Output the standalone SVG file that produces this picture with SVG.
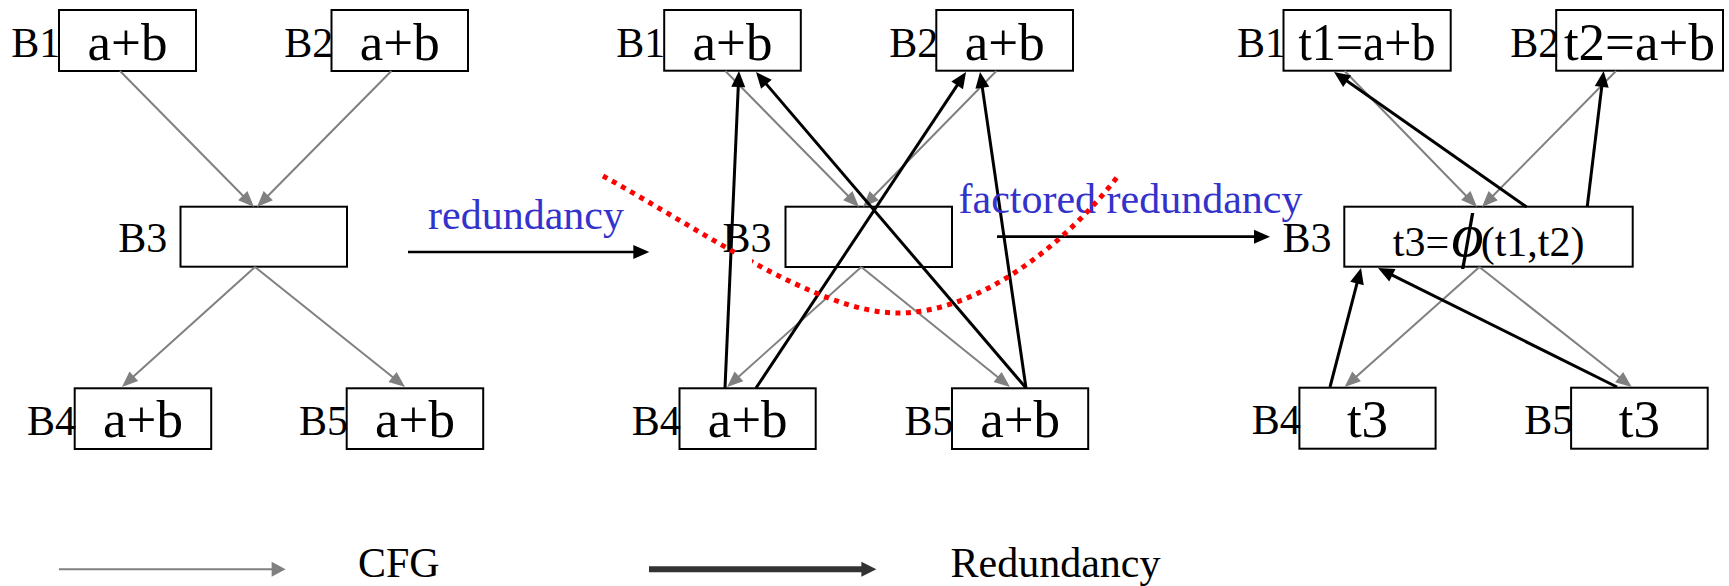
<svg xmlns="http://www.w3.org/2000/svg" width="1729" height="586" viewBox="0 0 1729 586">
<style>
text{font-family:"Liberation Serif","Times New Roman",serif;fill:#000}
.box{fill:#fff;stroke:#000;stroke-width:2}
.lbl{font-family:"Liberation Serif","Times New Roman",serif;font-size:42px}
.val{font-family:"Liberation Serif","Times New Roman",serif;font-size:53px;text-anchor:middle}
.txt{font-family:"Liberation Serif","Times New Roman",serif;font-size:42px}
.note{font-family:"Liberation Serif","Times New Roman",serif;font-size:42px;fill:#3333cc}
.cfg{fill:none;stroke:#808080;stroke-width:2;marker-end:url(#ag)}
.rdn{fill:none;stroke:#000;stroke-width:3;marker-end:url(#ab)}
.step{fill:none;stroke:#000;stroke-width:2.7;marker-end:url(#ab)}
</style>
<defs>
<marker id="ag" markerUnits="userSpaceOnUse" markerWidth="16" markerHeight="13" refX="8" refY="6.5" orient="auto" overflow="visible"><path d="M0,0 L16,6.5 L0,13 z" fill="#808080"/></marker>
<marker id="ab" markerUnits="userSpaceOnUse" markerWidth="16" markerHeight="14" refX="8" refY="7" orient="auto" overflow="visible"><path d="M0,0 L16,7 L0,14 z" fill="#000"/></marker>
<marker id="lg" markerUnits="userSpaceOnUse" markerWidth="14" markerHeight="15" refX="7" refY="7.5" orient="auto" overflow="visible"><path d="M0,0 L14,7.5 L0,15 z" fill="#808080"/></marker>
<marker id="ld" markerUnits="userSpaceOnUse" markerWidth="15" markerHeight="15" refX="7" refY="7.5" orient="auto" overflow="visible"><path d="M0,0 L15,7.5 L0,15 z" fill="#333"/></marker>
<mask id="gap" maskUnits="userSpaceOnUse" x="0" y="0" width="1729" height="586"><rect width="1729" height="586" fill="#fff"/><rect x="737" y="248" width="15" height="22" fill="#000"/></mask>
</defs>

<!-- left panel -->
<g id="L-B1"><rect class="box" x="59" y="10" width="137" height="61"/><text class="lbl" x="11.3" y="57">B1</text><text class="val" x="127.5" y="60">a+b</text></g>
<g id="L-B2"><rect class="box" x="331.5" y="10" width="136.5" height="61"/><text class="lbl" x="284.3" y="57">B2</text><text class="val" x="399.75" y="60">a+b</text></g>
<g id="L-B3"><rect class="box" x="180.5" y="206.7" width="166.5" height="60"/><text class="lbl" x="118.3" y="251.7">B3</text></g>
<g id="L-B4"><rect class="box" x="74.7" y="388.3" width="136.5" height="60.7"/><text class="lbl" x="27" y="435">B4</text><text class="val" x="143" y="437">a+b</text></g>
<g id="L-B5"><rect class="box" x="346.7" y="388.3" width="136.5" height="60.7"/><text class="lbl" x="299" y="435">B5</text><text class="val" x="415" y="437">a+b</text></g>

<!-- middle panel -->
<g id="M-B1"><rect class="box" x="664.2" y="10" width="136.6" height="60.7"/><text class="lbl" x="616.3" y="57">B1</text><text class="val" x="732.5" y="60">a+b</text></g>
<g id="M-B2"><rect class="box" x="936.3" y="10" width="136.7" height="60.7"/><text class="lbl" x="889.3" y="57">B2</text><text class="val" x="1004.7" y="60">a+b</text></g>
<g id="M-B3"><rect class="box" x="785.5" y="206.7" width="166.5" height="60.3"/><text class="lbl" x="722.6" y="251.7">B3</text></g>
<g id="M-B4"><rect class="box" x="679.5" y="388.3" width="136.2" height="60.7"/><text class="lbl" x="631.7" y="435">B4</text><text class="val" x="747.6" y="437">a+b</text></g>
<g id="M-B5"><rect class="box" x="952" y="388.3" width="136.2" height="60.7"/><text class="lbl" x="904.6" y="435">B5</text><text class="val" x="1020.1" y="437">a+b</text></g>

<!-- right panel -->
<g id="R-B1"><rect class="box" x="1283.5" y="10" width="167.2" height="60.7"/><text class="lbl" x="1237" y="57">B1</text><text class="val" x="1367" y="60" textLength="137" lengthAdjust="spacingAndGlyphs">t1=a+b</text></g>
<g id="R-B2"><rect class="box" x="1556.2" y="10" width="166.8" height="60.7"/><text class="lbl" x="1510.2" y="57">B2</text><text class="val" x="1639.4" y="60">t2=a+b</text></g>
<g id="R-B3"><rect class="box" x="1344.3" y="206.7" width="288.4" height="60"/><text class="lbl" x="1282.6" y="251.7">B3</text><text class="txt" x="1392.8" y="256">t3=</text><text style="font-size:62px;font-style:italic;text-anchor:middle;font-family:'Liberation Serif','DejaVu Serif',serif" x="1467.5" y="256">ϕ</text><text class="txt" x="1480.7" y="256">(t1,t2)</text></g>
<g id="R-B4"><rect class="box" x="1299.4" y="387.7" width="136.2" height="61"/><text class="lbl" x="1251.8" y="434">B4</text><text class="val" x="1367.5" y="436.7">t3</text></g>
<g id="R-B5"><rect class="box" x="1571.1" y="387.7" width="136.6" height="61"/><text class="lbl" x="1524.2" y="434">B5</text><text class="val" x="1639.4" y="436.7">t3</text></g>

<g id="connectors">
<path class="cfg" d="M120,71 L248.4,201.3"/>
<path class="cfg" d="M391.4,71 L262.6,201.3"/>
<path class="cfg" d="M255,267 L127.9,381.6"/>
<path class="cfg" d="M255,267 L398.8,382"/>

<path class="cfg" d="M725.4,71 L853.4,201.3"/>
<path class="cfg" d="M996.4,71 L868.6,201.3"/>
<path class="cfg" d="M861.3,267 L733,381.7"/>
<path class="cfg" d="M861.3,267 L1003.8,382"/>

<path class="rdn" d="M725,388 L738.6,79"/>
<path class="rdn" d="M1026,388 L761.2,78.1"/>
<path class="rdn" d="M756,388 L961.6,78.7"/>
<path class="rdn" d="M1026,388 L981.2,79.9"/>

<path class="cfg" d="M1344.6,71 L1471.4,201.3"/>
<path class="cfg" d="M1616,71 L1487.6,201.3"/>
<path class="cfg" d="M1479.4,267 L1350.6,381.7"/>
<path class="cfg" d="M1479.4,267 L1625.4,382"/>

<path class="rdn" d="M1526.6,207 L1340.6,76.6"/>
<path class="rdn" d="M1587.2,207 L1602.7,78.9"/>
<path class="rdn" d="M1330,387 L1359,275.7"/>
<path class="rdn" d="M1617,387 L1385.2,271.6"/>

<path class="step" d="M408,252 H641.3"/>
<path class="step" d="M997,236.7 H1262"/>
</g>

<g id="annotations">
<text class="note" x="428" y="229">redundancy</text>
<text class="note" x="958.5" y="213.3">factored redundancy</text>
<path d="M603,176 C703,231 818,313 898,313 C978,313 1065,245 1118,176" fill="none" stroke="#ff0000" stroke-width="5" stroke-dasharray="5 5.5" mask="url(#gap)"/>
</g>

<g id="legend">
<path d="M59,569.3 H278.6" fill="none" stroke="#808080" stroke-width="2" marker-end="url(#lg)"/>
<text class="txt" x="358" y="577.3">CFG</text>
<path d="M649,569.3 H868.4" fill="none" stroke="#333" stroke-width="6" marker-end="url(#ld)"/>
<text class="txt" x="950.5" y="577.3">Redundancy</text>
</g>
</svg>
